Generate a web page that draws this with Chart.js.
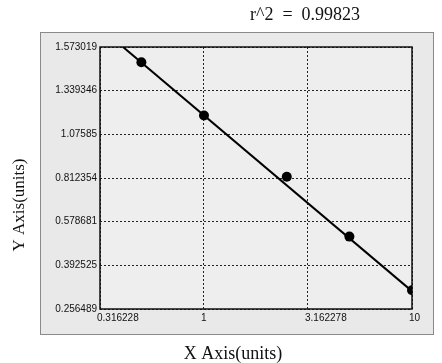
<!DOCTYPE html>
<html>
<head>
<meta charset="utf-8">
<script src="https://cdn.jsdelivr.net/npm/chart.js@4/dist/chart.umd.min.js"></script>
<style>
  html, body { margin: 0; padding: 0; background: #fff; }
  canvas { display: block; }
</style>
</head>
<body>
<canvas id="curve" width="442" height="363"></canvas>
<script>
(function() {
    'use strict';

    // standard points
    const xValues = [0.5, 1, 2.5, 5, 10];
    const yValues = [1.491, 1.189, 0.820, 0.515, 0.315];

    // fitted line ends
    const fitX = [0.408, 10];
    const fitY = [1.573019, 0.312];

    const xTickValues = [0.316228, 1, 3.162278, 10];
    const xTickLabels = ['0.316228', '1', '3.162278', '10'];
    const yTickValues = [0.256489, 0.392525, 0.578681, 0.812354, 1.07585, 1.339346, 1.573019];
    const yTickLabels = ['0.256489', '0.392525', '0.578681', '0.812354', '1.07585', '1.339346', '1.573019'];

    const rSquared = 'r^2  =  0.99823';

    // the y ticks are evenly spaced but their values are not,
    // so a value is placed between its two neighbouring ticks
    function yPos(v) {
        for (let i = 0; i < yTickValues.length - 1; i++) {
            const a = yTickValues[i], b = yTickValues[i + 1];
            if (v <= b || i === yTickValues.length - 2) {
                return i + (v - a) / (b - a);
            }
        }
        return 0;
    }

    const points = xValues.map((x, i) => ({ x: x, y: yPos(yValues[i]) }));
    const fitLine = fitX.map((x, i) => ({ x: x, y: yPos(fitY[i]) }));

    const frame = {
        id: 'frame',
        beforeDraw(chart) {
            const ctx = chart.ctx;
            ctx.save();
            ctx.fillStyle = '#fff';
            ctx.fillRect(0, 0, chart.width, chart.height);
            ctx.fillStyle = '#e9e9e9';
            ctx.fillRect(40, 32, 393, 302);
            ctx.strokeStyle = '#8a8a8a';
            ctx.lineWidth = 1;
            ctx.strokeRect(40.5, 32.5, 393, 302);
            const a = chart.chartArea;
            ctx.fillStyle = '#eeeeee';
            ctx.fillRect(a.left, a.top, a.right - a.left, a.bottom - a.top);
            ctx.restore();
        },
        beforeDatasetsDraw(chart) {
            const ctx = chart.ctx;
            const a = chart.chartArea;
            ctx.save();
            ctx.strokeStyle = '#111';
            ctx.lineWidth = 1.5;
            ctx.strokeRect(a.left, a.top, a.right - a.left, a.bottom - a.top);
            ctx.restore();
        },
        afterDraw(chart) {
            const ctx = chart.ctx;
            ctx.save();
            ctx.fillStyle = '#111';
            ctx.textAlign = 'center';
            ctx.textBaseline = 'alphabetic';
            ctx.font = '18px "Liberation Serif", "Times New Roman", serif';
            ctx.fillText(rSquared, 305, 20);
            ctx.fillText('X Axis(units)', 233, 359);
            ctx.translate(24, 205);
            ctx.rotate(-Math.PI / 2);
            ctx.font = '17px "Liberation Serif", "Times New Roman", serif';
            ctx.fillText('Y Axis(units)', 0, 0);
            ctx.restore();
        }
    };

    const tickFont = { family: '"Liberation Sans", Arial, sans-serif', size: 10 };

    new Chart(document.getElementById('curve').getContext('2d'), {
        type: 'scatter',
        data: {
            datasets: [{
                label: 'Standards',
                data: points,
                backgroundColor: '#000',
                borderColor: '#000',
                borderWidth: 0,
                pointRadius: 5,
                showLine: false
            }, {
                label: 'Fit',
                data: fitLine,
                borderColor: '#000',
                borderWidth: 2,
                pointRadius: 0,
                showLine: true,
                fill: false
            }]
        },
        options: {
            responsive: false,
            animation: false,
            layout: { padding: { left: 0, right: 30, top: 47, bottom: 0 } },
            plugins: {
                legend: { display: false },
                tooltip: { enabled: false }
            },
            scales: {
                x: {
                    type: 'logarithmic',
                    bounds: 'data',
                    min: 0.316228,
                    max: 10,
                    afterBuildTicks: function(scale) {
                        scale.ticks = xTickValues.map(v => ({ value: v }));
                    },
                    afterFit: function(scale) { scale.height = 54; },
                    border: { display: false, dash: [2, 2] },
                    grid: { color: '#222', lineWidth: 1, drawTicks: false },
                    ticks: {
                        autoSkip: false,
                        maxRotation: 0,
                        align: 'start',
                        labelOffset: -3,
                        padding: 3,
                        color: '#111',
                        font: tickFont,
                        callback: function(value, index) { return xTickLabels[index]; }
                    }
                },
                y: {
                    type: 'linear',
                    min: 0,
                    max: 6,
                    afterBuildTicks: function(scale) {
                        scale.ticks = yTickLabels.map((l, i) => ({ value: i }));
                    },
                    afterFit: function(scale) { scale.width = 100; },
                    border: { display: false, dash: [2, 2] },
                    grid: { color: '#222', lineWidth: 1, drawTicks: false },
                    ticks: {
                        autoSkip: false,
                        padding: 3,
                        color: '#111',
                        font: tickFont,
                        callback: function(value, index) { return yTickLabels[index]; }
                    }
                }
            }
        },
        plugins: [frame]
    });
})();
</script>
</body>
</html>
